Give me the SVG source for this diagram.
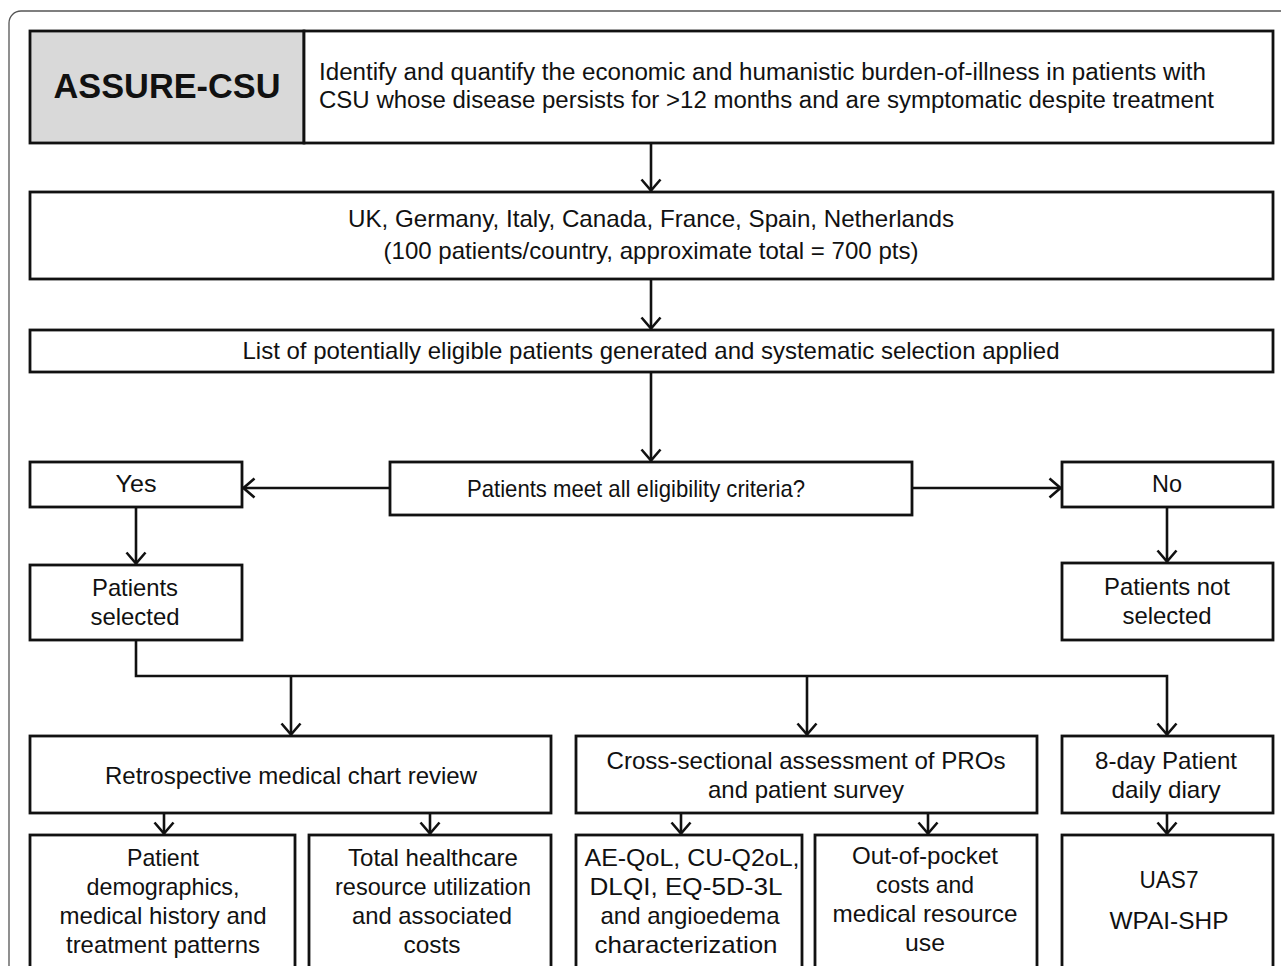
<svg xmlns="http://www.w3.org/2000/svg" width="1281" height="966" viewBox="0 0 1281 966">
<style>
.box{fill:#fff;stroke:#111;stroke-width:2.8}
.gray{fill:#d9d9d9;stroke:#111;stroke-width:2.8}
.t{font-family:"Liberation Sans",Arial,sans-serif;font-size:24px;fill:#111;text-anchor:middle}
.tl{font-family:"Liberation Sans",Arial,sans-serif;font-size:23px;fill:#111}
.title{font-family:"Liberation Sans",Arial,sans-serif;font-size:35px;font-weight:bold;fill:#111;text-anchor:middle}
.c{fill:none;stroke:#111;stroke-width:2.6}
</style>
<defs>
<marker id="ah" viewBox="0 0 14 22" refX="13" refY="11" markerWidth="14" markerHeight="22" markerUnits="userSpaceOnUse" orient="auto">
<path d="M1.5,1.5 L12.5,11 L1.5,20.5" fill="none" stroke="#111" stroke-width="2.6"/>
</marker>
</defs>
<rect x="0" y="0" width="1281" height="966" fill="#fff"/>
<rect x="9" y="11" width="1300" height="1000" rx="12" ry="12" fill="none" stroke="#555" stroke-width="1.3"/>

<g id="connectors">
<path class="c" d="M651,143 V191" marker-end="url(#ah)"/>
<path class="c" d="M651,279 V329" marker-end="url(#ah)"/>
<path class="c" d="M651,372 V461" marker-end="url(#ah)"/>
<path class="c" d="M390,488 H243" marker-end="url(#ah)"/>
<path class="c" d="M912,488 H1061" marker-end="url(#ah)"/>
<path class="c" d="M136,507 V564" marker-end="url(#ah)"/>
<path class="c" d="M1167,507 V562" marker-end="url(#ah)"/>
<path class="c" d="M136,640 V676 H1167 V735" marker-end="url(#ah)"/>
<path class="c" d="M291,676 V735" marker-end="url(#ah)"/>
<path class="c" d="M807,676 V735" marker-end="url(#ah)"/>
<path class="c" d="M164,813 V834" marker-end="url(#ah)"/>
<path class="c" d="M430,813 V834" marker-end="url(#ah)"/>
<path class="c" d="M681,813 V834" marker-end="url(#ah)"/>
<path class="c" d="M928,813 V834" marker-end="url(#ah)"/>
<path class="c" d="M1167,813 V834" marker-end="url(#ah)"/>
</g>

<g id="assure">
<rect class="gray" x="30" y="31" width="274" height="112"/>
<text class="title" x="167" y="98" textLength="227" lengthAdjust="spacingAndGlyphs">ASSURE-CSU</text>
</g>
<g id="aim">
<rect class="box" x="304" y="31" width="969" height="112"/>
<text class="tl" x="319" y="80" textLength="887" lengthAdjust="spacingAndGlyphs">Identify and quantify the economic and humanistic burden-of-illness in patients  with</text>
<text class="tl" x="319" y="108" textLength="895" lengthAdjust="spacingAndGlyphs">CSU whose disease persists for &gt;12 months and are symptomatic despite treatment</text>
</g>
<g id="countries">
<rect class="box" x="30" y="192" width="1243" height="87"/>
<text class="t" x="651" y="227" textLength="606" lengthAdjust="spacingAndGlyphs">UK, Germany, Italy, Canada, France, Spain, Netherlands</text>
<text class="t" x="651" y="259" textLength="535" lengthAdjust="spacingAndGlyphs">(100 patients/country,  approximate total = 700 pts)</text>
</g>
<g id="list">
<rect class="box" x="30" y="330" width="1243" height="42"/>
<text class="t" x="651" y="359" textLength="817" lengthAdjust="spacingAndGlyphs">List of potentially  eligible  patients generated and systematic selection applied</text>
</g>
<g id="decision">
<rect class="box" x="390" y="462" width="522" height="53"/>
<text class="t" x="636" y="497" textLength="338" lengthAdjust="spacingAndGlyphs">Patients meet all  eligibility  criteria?</text>
</g>
<g id="yes">
<rect class="box" x="30" y="462" width="212" height="45"/>
<text class="t" x="136" y="492" textLength="41" lengthAdjust="spacingAndGlyphs">Yes</text>
</g>
<g id="no">
<rect class="box" x="1062" y="462" width="211" height="45"/>
<text class="t" x="1167" y="492" textLength="30" lengthAdjust="spacingAndGlyphs">No</text>
</g>
<g id="selected">
<rect class="box" x="30" y="565" width="212" height="75"/>
<text class="t" x="135" y="596" textLength="86" lengthAdjust="spacingAndGlyphs">Patients</text>
<text class="t" x="135" y="625" textLength="89" lengthAdjust="spacingAndGlyphs">selected</text>
</g>
<g id="notselected">
<rect class="box" x="1062" y="563" width="211" height="77"/>
<text class="t" x="1167" y="595" textLength="126" lengthAdjust="spacingAndGlyphs">Patients not</text>
<text class="t" x="1167" y="624" textLength="89" lengthAdjust="spacingAndGlyphs">selected</text>
</g>
<g id="retro">
<rect class="box" x="30" y="736" width="521" height="77"/>
<text class="t" x="291" y="784" textLength="372" lengthAdjust="spacingAndGlyphs">Retrospective medical  chart review</text>
</g>
<g id="cross">
<rect class="box" x="576" y="736" width="461" height="77"/>
<text class="t" x="806" y="769" textLength="399" lengthAdjust="spacingAndGlyphs">Cross-sectional assessment of PROs</text>
<text class="t" x="806" y="798" textLength="196" lengthAdjust="spacingAndGlyphs">and patient survey</text>
</g>
<g id="diary">
<rect class="box" x="1062" y="736" width="211" height="77"/>
<text class="t" x="1166" y="769" textLength="142" lengthAdjust="spacingAndGlyphs">8-day Patient</text>
<text class="t" x="1166" y="798" textLength="109" lengthAdjust="spacingAndGlyphs">daily  diary</text>
</g>
<g id="demog">
<rect class="box" x="30" y="835" width="265" height="150"/>
<text class="t" x="163" y="866" textLength="72" lengthAdjust="spacingAndGlyphs">Patient</text>
<text class="t" x="163" y="895" textLength="153" lengthAdjust="spacingAndGlyphs">demographics,</text>
<text class="t" x="163" y="924" textLength="207" lengthAdjust="spacingAndGlyphs">medical history and</text>
<text class="t" x="163" y="953" textLength="194" lengthAdjust="spacingAndGlyphs">treatment patterns</text>
</g>
<g id="hcru">
<rect class="box" x="309" y="835" width="242" height="150"/>
<text class="t" x="433" y="866" textLength="170" lengthAdjust="spacingAndGlyphs">Total healthcare</text>
<text class="t" x="433" y="895" textLength="196" lengthAdjust="spacingAndGlyphs">resource utilization</text>
<text class="t" x="432" y="924" textLength="160" lengthAdjust="spacingAndGlyphs">and associated</text>
<text class="t" x="432" y="953" textLength="57" lengthAdjust="spacingAndGlyphs">costs</text>
</g>
<g id="pros">
<rect class="box" x="576" y="835" width="226" height="150"/>
<text class="t" x="692" y="866" textLength="215" lengthAdjust="spacingAndGlyphs">AE-QoL, CU-Q2oL,</text>
<text class="t" x="686" y="895" textLength="193" lengthAdjust="spacingAndGlyphs">DLQI, EQ-5D-3L</text>
<text class="t" x="690" y="924" textLength="179" lengthAdjust="spacingAndGlyphs">and angioedema</text>
<text class="t" x="686" y="953" textLength="183" lengthAdjust="spacingAndGlyphs">characterization</text>
</g>
<g id="oop">
<rect class="box" x="815" y="835" width="222" height="150"/>
<text class="t" x="925" y="864" textLength="146" lengthAdjust="spacingAndGlyphs">Out-of-pocket</text>
<text class="t" x="925" y="893" textLength="98" lengthAdjust="spacingAndGlyphs">costs and</text>
<text class="t" x="925" y="922" textLength="185" lengthAdjust="spacingAndGlyphs">medical resource</text>
<text class="t" x="925" y="951" textLength="40" lengthAdjust="spacingAndGlyphs">use</text>
</g>
<g id="uas">
<rect class="box" x="1062" y="835" width="211" height="150"/>
<text class="t" x="1169" y="888" textLength="59" lengthAdjust="spacingAndGlyphs">UAS7</text>
<text class="t" x="1169" y="929" textLength="119" lengthAdjust="spacingAndGlyphs">WPAI-SHP</text>
</g>
</svg>
